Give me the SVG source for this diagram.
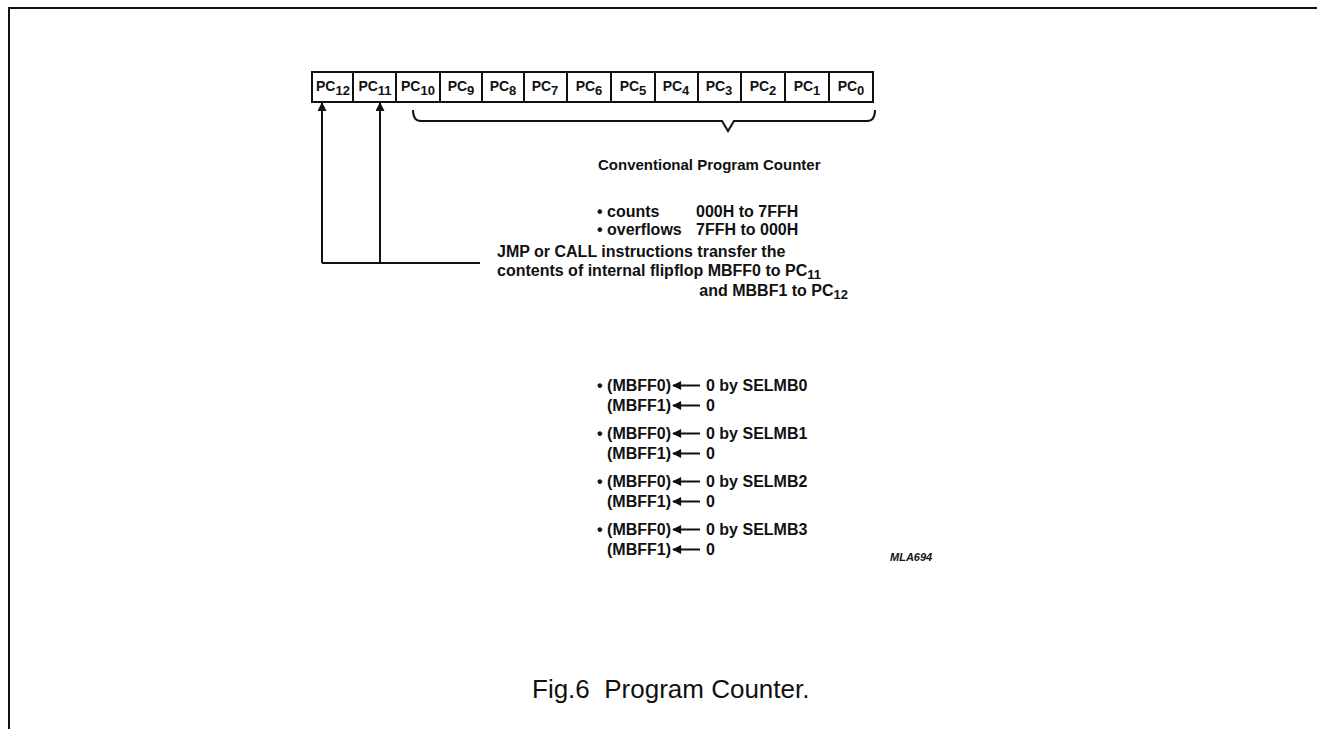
<svg xmlns="http://www.w3.org/2000/svg" width="1317" height="729" viewBox="0 0 1317 729">
<defs>
<style>
text{font-family:"Liberation Sans",Arial,sans-serif;fill:#111;}
.pc{font-size:14px;font-weight:bold;text-anchor:middle;}
.t{font-size:16px;font-weight:bold;}
.h{font-size:15px;font-weight:bold;}
.sub{font-size:13px;}
.cap{font-size:26px;}
.ml{font-size:11px;font-style:italic;font-weight:bold;}
.box{fill:#fff;stroke:#111;stroke-width:2;}
.ln{fill:none;stroke:#111;stroke-width:2;}
.ar{fill:none;stroke:#111;stroke-width:2;}
</style>
<marker id="ah" viewBox="0 0 10 10" refX="9" refY="5" markerWidth="12" markerHeight="9" orient="auto" markerUnits="userSpaceOnUse">
<path d="M0,0 L10,5 L0,10 z" fill="#111"/>
</marker>
<marker id="ahb" viewBox="0 0 10 10" refX="9" refY="5" markerWidth="13" markerHeight="9" orient="auto" markerUnits="userSpaceOnUse">
<path d="M0,0 L10,5 L0,10 z" fill="#111"/>
</marker>
</defs>
<rect width="1317" height="729" fill="#fff"/>
<path class="ln" d="M9,729 V8 H1317"/>

<g id="register">
<rect class="box" x="312" y="72" width="41" height="30"/>
<rect class="box" x="353" y="72" width="43" height="30"/>
<rect class="box" x="396" y="72" width="44" height="30"/>
<rect class="box" x="440" y="72" width="42" height="30"/>
<rect class="box" x="482" y="72" width="42" height="30"/>
<rect class="box" x="524" y="72" width="43" height="30"/>
<rect class="box" x="567" y="72" width="44" height="30"/>
<rect class="box" x="611" y="72" width="44" height="30"/>
<rect class="box" x="655" y="72" width="43" height="30"/>
<rect class="box" x="698" y="72" width="43" height="30"/>
<rect class="box" x="741" y="72" width="44" height="30"/>
<rect class="box" x="785" y="72" width="44" height="30"/>
<rect class="box" x="829" y="72" width="44" height="30"/>
<text class="pc" x="333" y="91">PC<tspan dy="4" class="sub">12</tspan></text>
<text class="pc" x="375" y="91">PC<tspan dy="4" class="sub">11</tspan></text>
<text class="pc" x="418" y="91">PC<tspan dy="4" class="sub">10</tspan></text>
<text class="pc" x="461" y="91">PC<tspan dy="4" class="sub">9</tspan></text>
<text class="pc" x="503" y="91">PC<tspan dy="4" class="sub">8</tspan></text>
<text class="pc" x="545" y="91">PC<tspan dy="4" class="sub">7</tspan></text>
<text class="pc" x="589" y="91">PC<tspan dy="4" class="sub">6</tspan></text>
<text class="pc" x="633" y="91">PC<tspan dy="4" class="sub">5</tspan></text>
<text class="pc" x="676" y="91">PC<tspan dy="4" class="sub">4</tspan></text>
<text class="pc" x="719" y="91">PC<tspan dy="4" class="sub">3</tspan></text>
<text class="pc" x="763" y="91">PC<tspan dy="4" class="sub">2</tspan></text>
<text class="pc" x="807" y="91">PC<tspan dy="4" class="sub">1</tspan></text>
<text class="pc" x="851" y="91">PC<tspan dy="4" class="sub">0</tspan></text>
</g>

<g id="connectors">
<path class="ln" d="M413,110 Q413,121 421,121 H722 L728,131 L734,121 H867 Q875,121 875,110"/>
<path class="ln" d="M322,263 V103" marker-end="url(#ahb)"/>
<path class="ln" d="M380,263 V103" marker-end="url(#ahb)"/>
<path class="ln" d="M322,263 H480"/>
</g>

<g id="conventional">
<text class="h" x="598" y="170">Conventional Program Counter</text>
<text class="t" x="597" y="217">• counts</text>
<text class="t" x="696" y="217">000H to 7FFH</text>
<text class="t" x="597" y="235">• overflows</text>
<text class="t" x="696" y="235">7FFH to 000H</text>
</g>

<g id="jmp-note">
<text class="t" x="497" y="257">JMP or CALL instructions transfer the</text>
<text class="t" x="497" y="276">contents of internal flipflop MBFF0 to PC<tspan dy="3" class="sub">11</tspan></text>
<text class="t" x="848" y="296" text-anchor="end">and MBBF1 to PC<tspan dy="3" class="sub">12</tspan></text>
</g>

<g id="selmb">
<text class="t" x="597" y="391">• (MBFF0)</text>
<text class="t" x="607" y="411">(MBFF1)</text>
<text class="t" x="706" y="391">0 by SELMB0</text>
<text class="t" x="706" y="411">0</text>
<text class="t" x="597" y="439">• (MBFF0)</text>
<text class="t" x="607" y="459">(MBFF1)</text>
<text class="t" x="706" y="439">0 by SELMB1</text>
<text class="t" x="706" y="459">0</text>
<text class="t" x="597" y="487">• (MBFF0)</text>
<text class="t" x="607" y="507">(MBFF1)</text>
<text class="t" x="706" y="487">0 by SELMB2</text>
<text class="t" x="706" y="507">0</text>
<text class="t" x="597" y="535">• (MBFF0)</text>
<text class="t" x="607" y="555">(MBFF1)</text>
<text class="t" x="706" y="535">0 by SELMB3</text>
<text class="t" x="706" y="555">0</text>
<g class="ar">
<path d="M700,385.5 H673" marker-end="url(#ah)"/>
<path d="M700,405.5 H673" marker-end="url(#ah)"/>
<path d="M700,433.5 H673" marker-end="url(#ah)"/>
<path d="M700,453.5 H673" marker-end="url(#ah)"/>
<path d="M700,481.5 H673" marker-end="url(#ah)"/>
<path d="M700,501.5 H673" marker-end="url(#ah)"/>
<path d="M700,529.5 H673" marker-end="url(#ah)"/>
<path d="M700,549.5 H673" marker-end="url(#ah)"/>
</g>
</g>

<text class="ml" x="890" y="561">MLA694</text>
<text class="cap" x="532" y="698" xml:space="preserve">Fig.6  Program Counter.</text>
</svg>
